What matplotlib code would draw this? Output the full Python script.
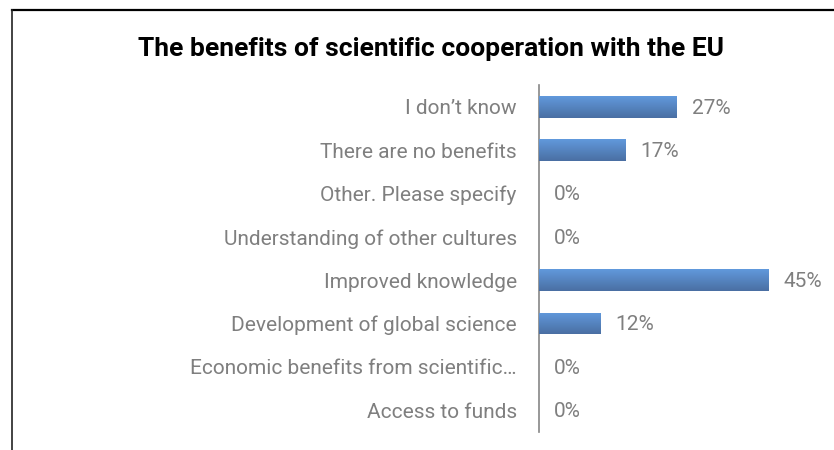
import matplotlib
matplotlib.use("Agg")
import matplotlib.pyplot as plt
import numpy as np
from matplotlib.colors import LinearSegmentedColormap
from matplotlib.lines import Line2D

categories = [
    "I don\u2019t know",
    "There are no benefits",
    "Other. Please specify",
    "Understanding of other cultures",
    "Improved knowledge",
    "Development of global science",
    "Economic benefits from scientific\u2026",
    "Access to funds",
]
values = [27, 17, 0, 0, 45, 12, 0, 0]
value_labels = ["27%", "17%", "0%", "0%", "45%", "12%", "0%", "0%"]

TEXT_GREY = "#7f7f7f"
plt.rcParams["font.family"] = ["Roboto", "DejaVu Sans"]

W, H = 834, 450
fig = plt.figure(figsize=(W / 100, H / 100), dpi=100)

# axis line at x=539px, 1% ~ 5.09px
ax = fig.add_axes([539 / W, 1 - 432 / H, 50 * 5.09 / W, 347 / H])

ypos = np.arange(len(categories))
bars = ax.barh(ypos, values, height=0.5, color="#5485c4", zorder=2)

# vertical gradient fill on each bar
grad_cmap = LinearSegmentedColormap.from_list("bar", ["#6199dc", "#4a6fa3"])
gradient = np.linspace(0, 1, 64).reshape(-1, 1)
for b in bars:
    if b.get_width() <= 0:
        continue
    x0, y0 = b.get_x(), b.get_y()
    img = ax.imshow(gradient, cmap=grad_cmap, aspect="auto",
                    extent=(x0, x0 + b.get_width(), y0 + b.get_height(), y0),
                    origin="upper", zorder=3)
    img.set_clip_path(b)
    b.set_alpha(0)
ax.set_xlim(0, 50)
ax.set_ylim(len(categories) - 0.5, -0.5)

for y, v, lab in zip(ypos, values, value_labels):
    ax.annotate(lab, xy=(v, y), xytext=(11, -1), textcoords="offset points",
                ha="left", va="center", fontsize=15, color=TEXT_GREY)

ax.set_yticks(ypos)
ax.set_yticklabels(categories, fontsize=15, color=TEXT_GREY)
ax.tick_params(axis="y", length=0, pad=16)
ax.set_xticks([])
for side in ["top", "right", "bottom"]:
    ax.spines[side].set_visible(False)
ax.spines["left"].set_color("#868686")
ax.spines["left"].set_linewidth(1.2)
ax.patch.set_alpha(0)

fig.text(431 / W, 1 - 49 / H, "The benefits of scientific cooperation with the EU",
         ha="center", va="center", fontsize=19, fontweight="bold", color="black")

# frame: top and left edges
fig.add_artist(Line2D([12 / W, 1], [1 - 10 / H, 1 - 10 / H], color="black", lw=1.6))
fig.add_artist(Line2D([12 / W, 12 / W], [0, 1 - 10 / H], color="#222222", lw=1.2))

fig.savefig("out.png", dpi=100)
